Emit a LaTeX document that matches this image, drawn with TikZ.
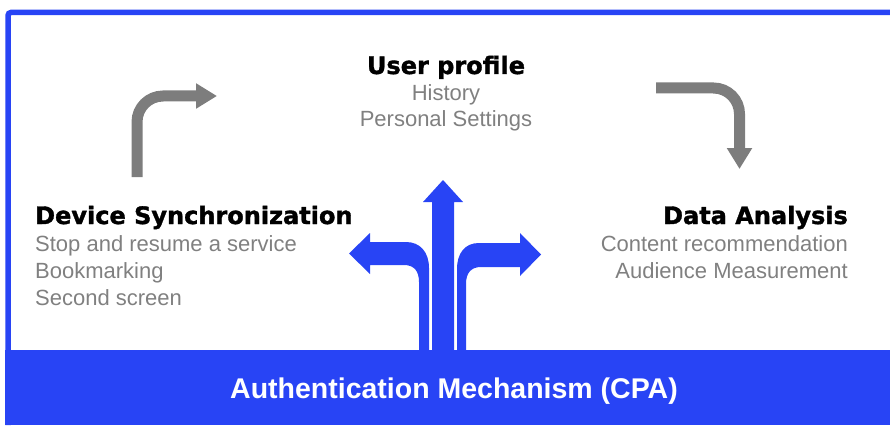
\documentclass[tikz,border=0pt]{standalone}
\usepackage{fontspec}
\setmainfont{Liberation Sans}
\newfontfamily\headfont{DejaVu Sans}[BoldFeatures={FakeBold=1.4}]
\usetikzlibrary{arrows.meta}
\usetikzlibrary{positioning}
\definecolor{cpablue}{RGB}{40,68,245}
\definecolor{txtgray}{RGB}{128,128,128}
\definecolor{arrgray}{RGB}{125,125,125}

\begin{document}
\begin{tikzpicture}[x=1pt,y=-1pt,
  head/.style={font=\headfont\bfseries\fontsize{24}{28}\selectfont, inner sep=0pt},
  item/.style={font=\fontsize{22}{26}\selectfont, text=txtgray, inner sep=0pt},
  turn/.style={line width=11pt, arrgray, rounded corners=26pt, -{Triangle[length=21pt,width=24pt]}}]
\useasboundingbox (0,0) rectangle (890,425);
% frame and band
\draw[cpablue, line width=5.5pt, rounded corners=3pt] (8,425)--(8,12.5)--(892,12.5);
\fill[cpablue] (5,350) rectangle (890,425);
\node (cpa) [font=\bfseries\fontsize{28.5}{32}\selectfont, text=white, anchor=base] at (454,398) {Authentication Mechanism (CPA)};
% centre arrow
\fill[cpablue] (432,350)--(432,202)--(423,202)--(443,180)--(463,202)--(454,202)--(454,350)--cycle;
% left arrow
\fill[cpablue] (419,350)--(419,282) .. controls (419,271) and (414,265) .. (404,265)--(370,265)--(370,274)--(349,253.5)--(370,233)--(370,242)--(406,242) .. controls (420,242) and (429,252) .. (429,268)--(429,350)--cycle;
% right arrow
\fill[cpablue] (466,350)--(466,284) .. controls (466,273) and (471,267) .. (481,267)--(520,267)--(520,276)--(541,254.5)--(520,233)--(520,243)--(479,243) .. controls (465,243) and (457,253) .. (457,269)--(457,350)--cycle;
% grey turns
\draw[turn] (137,177)--(137,96)--(217,96);
\draw[turn] (656,88)--(739.5,88)--(739.5,169);
% user profile
\node (upro) [head, anchor=base] at (446,74) {User profile};
\node (hist) [item, anchor=base] at (446,100) {History};
\node (pset) [item, anchor=base] at (446,126) {Personal Settings};
% device sync
\node (dsync) [head, anchor=base west] at (35,224) {Device Synchronization};
\node (stop) [item, anchor=base west] at (35,251) {Stop and resume a service};
\node (bookm) [item, anchor=base west] at (35,278) {Bookmarking};
\node (second) [item, anchor=base west] at (35,305) {Second screen};
% data analysis
\node (data) [head, anchor=base east] at (848,224) {Data Analysis};
\node (cont) [item, anchor=base east] at (848,251) {Content recommendation};
\node (aud) [item, anchor=base east] at (848,278) {Audience Measurement};
\end{tikzpicture}
\end{document}
